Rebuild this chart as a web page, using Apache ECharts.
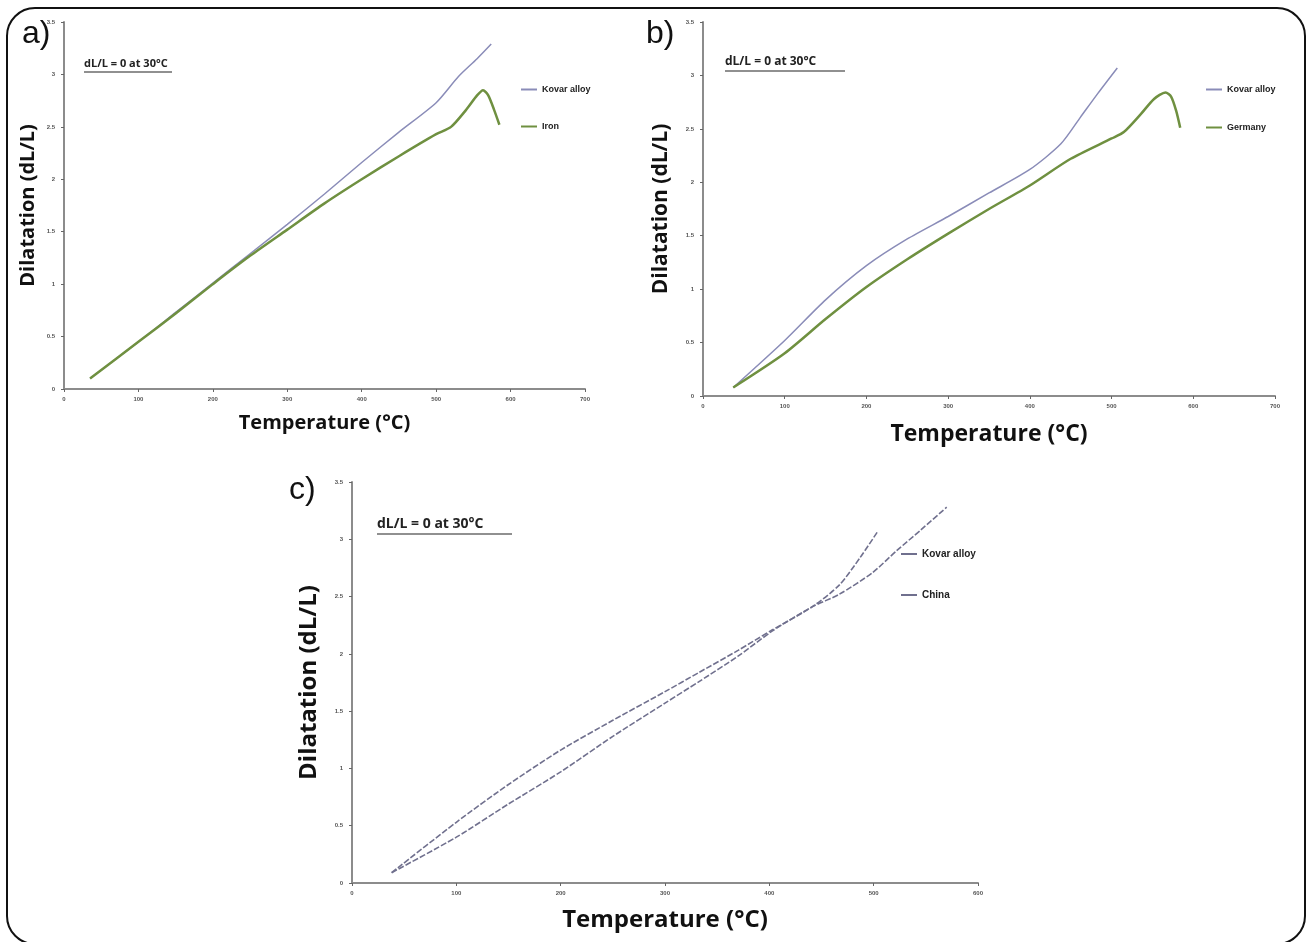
<!DOCTYPE html>
<html>
<head>
<meta charset="utf-8">
<script src="https://cdn.jsdelivr.net/npm/echarts@6/dist/echarts.min.js"></script>
<style>
html,body{margin:0;padding:0;background:#fff;}
#chart{width:1308px;height:942px;}
</style>
</head>
<body>
<div id="chart"></div>
<script>
// ---- Data (temperature °C, dilatation dL/L) ----
const yTicks = [0, 0.5, 1, 1.5, 2, 2.5, 3, 3.5];

// Panel a
const tempA_kovar = [35, 100, 150, 200, 250, 300, 350, 400, 450, 500, 530, 555, 574];
const dilA_kovar  = [0.10, 0.45, 0.73, 1.01, 1.29, 1.57, 1.86, 2.16, 2.45, 2.73, 2.98, 3.15, 3.29];
const tempA_iron  = [35, 100, 150, 200, 250, 300, 350, 400, 450, 500, 520, 540, 555, 563, 570, 578, 585];
const dilA_iron   = [0.10, 0.45, 0.72, 1.00, 1.27, 1.52, 1.77, 2.00, 2.22, 2.43, 2.50, 2.66, 2.80, 2.85, 2.80, 2.66, 2.52];

// Panel b
const tempB_kovar   = [37, 100, 150, 200, 250, 300, 350, 400, 438, 462, 483, 507];
const dilB_kovar    = [0.08, 0.52, 0.90, 1.22, 1.47, 1.68, 1.90, 2.12, 2.36, 2.61, 2.83, 3.07];
const tempB_germany = [37, 100, 150, 200, 250, 300, 350, 400, 450, 500, 515, 536, 552, 566, 573, 579, 584];
const dilB_germany  = [0.08, 0.40, 0.72, 1.02, 1.28, 1.52, 1.75, 1.97, 2.22, 2.41, 2.47, 2.64, 2.78, 2.84, 2.80, 2.67, 2.51];

// Panel c
const tempC_kovar = [38, 100, 150, 200, 250, 300, 333, 370, 403, 441, 467, 487, 504];
const dilC_kovar  = [0.09, 0.53, 0.86, 1.16, 1.42, 1.67, 1.84, 2.03, 2.21, 2.41, 2.60, 2.84, 3.07];
const tempC_china = [38, 100, 150, 200, 250, 300, 333, 370, 403, 441, 467, 499, 522, 545, 570];
const dilC_china  = [0.09, 0.40, 0.69, 0.97, 1.28, 1.57, 1.76, 1.98, 2.20, 2.41, 2.52, 2.71, 2.90, 3.08, 3.28];

const zip = (xs, ys) => xs.map((x, i) => [x, ys[i]]);

const KOVAR_AB = '#8a8cb8';
const GREEN = '#6f9040';
const C_LINE = '#70708e';
const FONT = '"Open Sans", "DejaVu Sans", sans-serif';

function xAxisDef(grid, max, nameSize, gap) {
  return {
    type: 'value', gridIndex: grid, min: 0, max: max, interval: 100,
    name: 'Temperature (°C)', nameLocation: 'middle', nameGap: gap,
    nameTextStyle: {fontFamily: FONT, fontWeight: 'bold', fontSize: nameSize, color: '#111'},
    axisLine: {lineStyle: {color: '#8c8c8c', width: 2}},
    axisTick: {show: true, length: 3, lineStyle: {color: '#666'}},
    axisLabel: {fontSize: 6, fontWeight: 'bold', color: '#555', margin: 7},
    splitLine: {show: false}
  };
}
function yAxisDef(grid, nameSize, gap) {
  return {
    type: 'value', gridIndex: grid, min: 0, max: 3.5, interval: 0.5,
    name: 'Dilatation (dL/L)', nameLocation: 'middle', nameGap: gap,
    nameTextStyle: {fontFamily: FONT, fontWeight: 'bold', fontSize: nameSize, color: '#111'},
    axisLine: {show: true, lineStyle: {color: '#8c8c8c', width: 2}},
    axisTick: {show: true, length: 3, lineStyle: {color: '#666'}},
    axisLabel: {fontSize: 6, fontWeight: 'bold', color: '#555', margin: 9,
      formatter: v => yTicks.indexOf(v) >= 0 ? String(v) : ''},
    splitLine: {show: false}
  };
}
function lineSeries(name, xi, data, color, width, dashed) {
  return {
    name: name, type: 'line', xAxisIndex: xi, yAxisIndex: xi,
    data: data, showSymbol: false, symbol: 'none', smooth: 0.25,
    lineStyle: {color: color, width: width, type: dashed ? [6, 2] : 'solid'},
    itemStyle: {color: color}, emphasis: {disabled: true}, animation: false
  };
}
function legendDef(names, left, top, gap, fs) {
  return {
    data: names, orient: 'vertical', left: left, top: top, itemGap: gap,
    icon: 'rect', itemWidth: 16, itemHeight: 2, selectedMode: false,
    textStyle: {fontFamily: '"Liberation Sans", Arial, sans-serif', fontWeight: 'bold', fontSize: fs, color: '#222'}
  };
}
function note(x, y, fs, w) {
  return [
    {type: 'text', left: x, top: y, style: {text: 'dL/L = 0 at 30°C', font: 'bold ' + fs + 'px ' + FONT, fill: '#222'}},
    {type: 'line', shape: {x1: x, y1: y + fs + 3, x2: x + w, y2: y + fs + 3}, style: {stroke: '#222', lineWidth: 1.2}}
  ];
}

const chart = echarts.init(document.getElementById('chart'), null, {renderer: 'canvas'});
chart.setOption({
  backgroundColor: '#fff',
  animation: false,
  grid: [
    {left: 64, top: 22, width: 521, height: 367},
    {left: 703, top: 22, width: 572, height: 374},
    {left: 352, top: 482, width: 626, height: 401}
  ],
  xAxis: [xAxisDef(0, 700, 20, 24), xAxisDef(1, 700, 23, 27), xAxisDef(2, 600, 24, 25)],
  yAxis: [yAxisDef(0, 20, 26), yAxisDef(1, 21, 31), yAxisDef(2, 24, 31)],
  legend: [
    legendDef(['Kovar alloy', 'Iron'], 516, 80, 28, 9),
    legendDef(['Kovar alloy ', 'Germany'], 1201, 80, 29, 9),
    legendDef(['Kovar alloy  ', 'China'], 896, 544, 31, 10)
  ],
  series: [
    lineSeries('Kovar alloy', 0, zip(tempA_kovar, dilA_kovar), KOVAR_AB, 1.5, false),
    lineSeries('Iron', 0, zip(tempA_iron, dilA_iron), GREEN, 2.5, false),
    lineSeries('Kovar alloy ', 1, zip(tempB_kovar, dilB_kovar), KOVAR_AB, 1.5, false),
    lineSeries('Germany', 1, zip(tempB_germany, dilB_germany), GREEN, 2.5, false),
    lineSeries('Kovar alloy  ', 2, zip(tempC_kovar, dilC_kovar), C_LINE, 1.6, true),
    lineSeries('China', 2, zip(tempC_china, dilC_china), C_LINE, 1.6, true)
  ],
  graphic: [
    {type: 'rect', shape: {x: 7, y: 8, width: 1298, height: 936, r: 28}, style: {fill: 'none', stroke: '#111', lineWidth: 2}, silent: true},
    {type: 'text', left: 22, top: 18, style: {text: 'a)', font: '32px "Liberation Sans", Arial, sans-serif', fill: '#111'}},
    {type: 'text', left: 646, top: 18, style: {text: 'b)', font: '32px "Liberation Sans", Arial, sans-serif', fill: '#111'}},
    {type: 'text', left: 289, top: 474, style: {text: 'c)', font: '32px "Liberation Sans", Arial, sans-serif', fill: '#111'}}
  ].concat(note(84, 58, 11, 88), note(725, 56, 12, 120), note(377, 517, 14, 135))
});
</script>
</body>
</html>
